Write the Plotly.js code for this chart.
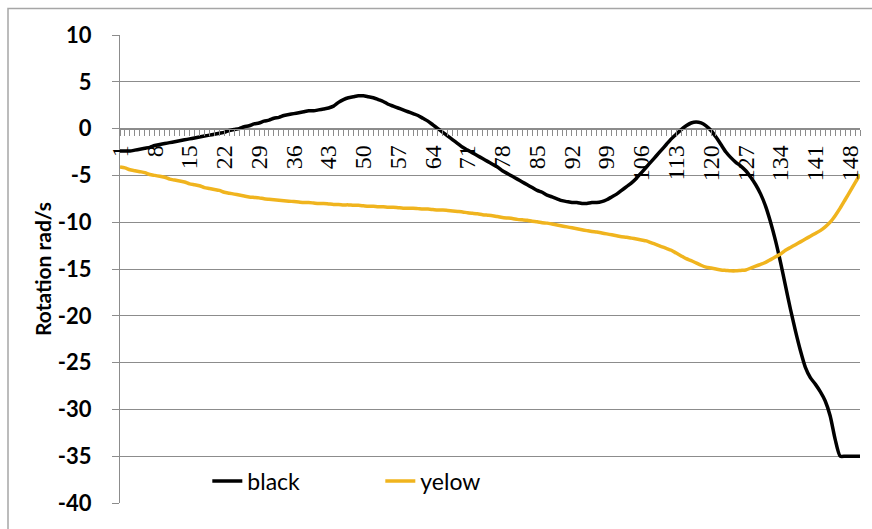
<!DOCTYPE html>
<html>
<head>
<meta charset="utf-8">
<script src="https://cdn.plot.ly/plotly-3.0.1.min.js"></script>
<style>html,body{margin:0;padding:0;background:#fff;}#chart{width:872px;height:529px;}</style>
</head>
<body>
<div id="chart"></div>
<script>
// Category numbers 1..150 (x axis)
const categories = [
  1,2,3,4,5,6,7,8,9,10,11,12,13,14,15,16,17,18,19,20,
  21,22,23,24,25,26,27,28,29,30,31,32,33,34,35,36,37,38,39,40,
  41,42,43,44,45,46,47,48,49,50,51,52,53,54,55,56,57,58,59,60,
  61,62,63,64,65,66,67,68,69,70,71,72,73,74,75,76,77,78,79,80,
  81,82,83,84,85,86,87,88,89,90,91,92,93,94,95,96,97,98,99,100,
  101,102,103,104,105,106,107,108,109,110,111,112,113,114,115,116,117,118,119,120,
  121,122,123,124,125,126,127,128,129,130,131,132,133,134,135,136,137,138,139,140,
  141,142,143,144,145,146,147,148,149,150
];
const tickLabels = [1,8,15,22,29,36,43,50,57,64,71,78,85,92,99,106,113,120,127,134,141,148];
const yTicks = [10,5,0,-5,-10,-15,-20,-25,-30,-35,-40];

const blackValues = [
  -2.4,-2.4,-2.4,-2.3,-2.2,-2.1,-2.0,-1.8,-1.7,-1.6,
  -1.5,-1.4,-1.3,-1.2,-1.1,-1.0,-0.9,-0.8,-0.7,-0.6,
  -0.5,-0.4,-0.2,-0.1,0.0,0.2,0.3,0.5,0.6,0.8,
  0.9,1.1,1.2,1.4,1.5,1.6,1.7,1.8,1.9,1.9,
  2.0,2.1,2.2,2.4,2.8,3.1,3.3,3.4,3.5,3.5,
  3.4,3.3,3.1,2.9,2.6,2.4,2.2,2.0,1.8,1.6,
  1.4,1.1,0.8,0.4,0.0,-0.4,-0.8,-1.2,-1.6,-2.0,
  -2.3,-2.6,-2.9,-3.2,-3.5,-3.8,-4.1,-4.5,-4.8,-5.1,
  -5.4,-5.7,-6.0,-6.3,-6.6,-6.8,-7.1,-7.3,-7.5,-7.7,
  -7.8,-7.9,-7.9,-8.0,-8.0,-7.9,-7.9,-7.8,-7.6,-7.3,
  -7.0,-6.6,-6.2,-5.8,-5.3,-4.7,-4.1,-3.5,-2.9,-2.3,
  -1.7,-1.1,-0.6,-0.1,0.3,0.6,0.7,0.6,0.3,-0.2,
  -0.9,-1.7,-2.5,-3.1,-3.6,-4.0,-4.5,-5.2,-6.0,-7.0,
  -8.3,-10.0,-12.0,-14.3,-16.8,-19.3,-21.6,-23.7,-25.5,-26.6,
  -27.3,-28.1,-29.1,-30.7,-33.2,-35.0,-35.0,-35.0,-35.0,-35.0
];
const yellowValues = [
  -4.1,-4.2,-4.4,-4.5,-4.6,-4.7,-4.9,-5.0,-5.1,-5.2,
  -5.4,-5.5,-5.6,-5.7,-5.9,-6.0,-6.1,-6.3,-6.4,-6.5,
  -6.6,-6.8,-6.9,-7.0,-7.1,-7.2,-7.3,-7.35,-7.4,-7.5,
  -7.55,-7.6,-7.65,-7.7,-7.75,-7.8,-7.85,-7.9,-7.9,-7.95,
  -8.0,-8.0,-8.05,-8.1,-8.1,-8.15,-8.15,-8.2,-8.2,-8.25,
  -8.3,-8.3,-8.35,-8.35,-8.4,-8.4,-8.45,-8.5,-8.5,-8.5,
  -8.55,-8.6,-8.6,-8.65,-8.7,-8.7,-8.75,-8.8,-8.85,-8.9,
  -9.0,-9.05,-9.1,-9.2,-9.25,-9.3,-9.4,-9.5,-9.55,-9.6,
  -9.7,-9.75,-9.8,-9.9,-9.95,-10.05,-10.1,-10.2,-10.3,-10.4,
  -10.5,-10.6,-10.7,-10.8,-10.9,-11.0,-11.05,-11.15,-11.25,-11.35,
  -11.45,-11.55,-11.6,-11.7,-11.8,-11.9,-12.0,-12.2,-12.4,-12.6,
  -12.8,-13.0,-13.3,-13.6,-13.9,-14.1,-14.35,-14.6,-14.8,-14.9,
  -15.0,-15.1,-15.15,-15.2,-15.2,-15.15,-15.1,-14.9,-14.7,-14.5,
  -14.3,-14.0,-13.7,-13.4,-13.0,-12.7,-12.4,-12.1,-11.8,-11.5,
  -11.2,-10.9,-10.5,-10.0,-9.3,-8.5,-7.6,-6.7,-5.8,-4.9
];
const seriesNames = ['black', 'yelow'];
const seriesColors = ['#000000', '#F0B41E'];

const gridColor = '#8C8C8C';
const traces = [
  {x: categories, y: blackValues, name: seriesNames[0], type: 'scatter', mode: 'lines',
   line: {color: seriesColors[0], width: 3.5, shape: 'spline', smoothing: 0.6}},
  {x: categories, y: yellowValues, name: seriesNames[1], type: 'scatter', mode: 'lines',
   line: {color: seriesColors[1], width: 3.5, shape: 'spline', smoothing: 0.6}}
];

const yMin = -40, yMax = 10;
const layout = {
  width: 872, height: 529,
  margin: {l: 120, r: 12, t: 35, b: 26},
  paper_bgcolor: '#ffffff', plot_bgcolor: '#ffffff',
  showlegend: true,
  legend: {
    orientation: 'h', x: 0.118, y: 0.047, xanchor: 'left', yanchor: 'middle',
    font: {family: 'Lato, sans-serif', size: 23, color: '#000'},
    bgcolor: 'rgba(0,0,0,0)', entrywidth: 128, entrywidthmode: 'pixels'
  },
  xaxis: {
    type: 'linear', range: [categories[0], categories[categories.length - 1]],
    anchor: 'free', position: (0 - yMin) / (yMax - yMin),
    showgrid: false, zeroline: false,
    showline: true, linecolor: gridColor, linewidth: 1,
    tickmode: 'array', tickvals: tickLabels, ticktext: tickLabels.map(String),
    ticks: 'outside', ticklen: 6, tickcolor: gridColor, tickwidth: 1,
    minor: {tickmode: 'array', tickvals: categories, ticks: 'outside', ticklen: 6, tickcolor: gridColor, tickwidth: 1, showgrid: false},
    tickangle: -90,
    tickfont: {family: '"Liberation Serif", "Times New Roman", serif', size: 24, color: '#000'},
    fixedrange: true
  },
  yaxis: {
    range: [yMin, yMax], tickmode: 'array', tickvals: yTicks, ticktext: yTicks.map(String),
    showgrid: true, gridcolor: gridColor, gridwidth: 1, zeroline: false,
    showline: true, linecolor: gridColor, linewidth: 1,
    ticks: 'outside', ticklen: 7, tickcolor: gridColor,
    ticklabelstandoff: 16,
    tickfont: {family: 'Lato, sans-serif', size: 22, color: '#000', weight: 'bold'},
    title: {text: 'Rotation rad/s', font: {family: 'Lato, sans-serif', size: 21, color: '#000', weight: 'bold'}, standoff: 0},
    automargin: false, fixedrange: true
  },
  shapes: [{
    type: 'rect', xref: 'paper', yref: 'paper',
    x0: (8 - 120) / 740, x1: 1.1, y0: -0.2, y1: 1 + (35 - 8.5) / 468,
    line: {color: '#A6A6A6', width: 1.5}, fillcolor: 'rgba(0,0,0,0)', layer: 'below'
  }]
};

Plotly.newPlot('chart', traces, layout, {displayModeBar: false, staticPlot: true});
</script>
</body>
</html>
